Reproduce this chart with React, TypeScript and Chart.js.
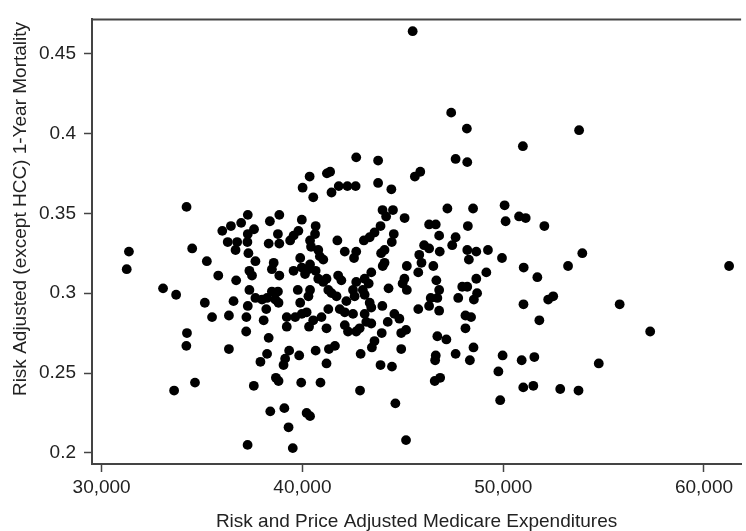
import React, { useEffect, useRef } from 'react';
import { Chart, registerables } from 'chart.js';

Chart.register(...registerables);

// Risk and Price Adjusted Medicare Expenditures (x)
const expenditures: number[] = [
  34230, 31360, 31250, 34510, 35240, 35810, 36700, 33060, 33710, 35140,
  36570, 36010, 36440, 36950, 37280, 36280, 36750, 36670, 37280, 37260,
  37310, 37360, 37360, 37280, 35500, 36340, 37210, 37200, 34250, 34220,
  36340, 34650, 33610, 37270, 42680, 43770, 40360, 41220, 41380, 40010,
  40540, 41450, 41810, 42240, 42650, 43770, 44430, 43990, 44510, 44170,
  45090, 38850, 38380, 37590, 39970, 39800, 39560, 39390, 40660, 40630,
  38780, 38320, 38850, 40380, 40430, 41740, 43890, 43590, 43350, 43060,
  44550, 44450, 44090, 43920, 42110, 42680, 42570, 40790, 40870, 41040,
  39890, 37660, 38570, 38480, 40380, 40300, 39560, 39970, 44090, 44000,
  37490, 38850, 40660, 40790, 41200, 41040, 41780, 41940, 43430, 43100,
  43300, 42680, 40130, 45080, 44990, 37660, 37990, 38480, 38780, 38240,
  38650, 38810, 39770, 39890, 40380, 40300, 41290, 41450, 41700, 42520,
  42600, 43010, 43100, 44290, 43980, 43350, 42190, 41290, 38200, 38070,
  39220, 39640, 39970, 40210, 39220, 40330, 40540, 40950, 41200, 41860,
  42110, 42520, 42110, 42270, 42680, 42850, 43100, 43180, 43430, 43430,
  44580, 44830, 44250, 43950, 44920, 38320, 43590, 43460, 44920, 41620,
  41320, 40660, 39340, 39140, 39060, 39840, 38240, 37910, 42900, 41200,
  43890, 44460, 38680, 38810, 39940, 40900, 37580, 42870, 44630, 38400,
  39100, 40210, 40380, 39310, 39520, 45160, 47630, 48210, 45600, 45870,
  50980, 47220, 48500, 50070, 50120, 50790, 51120, 46310, 46640, 48240,
  46810, 47630, 46060, 46310, 46840, 47460, 48210, 48660, 48290, 49240,
  49940, 45820, 45930, 45200, 45770, 46520, 46670, 49160, 48660, 45200,
  46810, 47960, 48210, 48700, 48540, 47760, 46390, 46720, 46310, 45770,
  46810, 51020, 51010, 45160, 48120, 48400, 48120, 46720, 47170, 46640,
  46610, 47630, 48520, 48340, 46860, 46590, 49970, 49760, 50920, 51000,
  49850, 52050, 53940, 53230, 61250, 51700, 52240, 52490, 51800, 55800,
  57320, 51550, 54760, 51500, 52840, 53750, 45490, 47410, 48190, 53780,
];

// Risk Adjusted (except HCC) 1-Year Mortality (y)
const mortality: number[] = [
  0.354, 0.326, 0.315, 0.328, 0.320, 0.311, 0.308, 0.303, 0.299, 0.294,
  0.295, 0.339, 0.342, 0.344, 0.349, 0.332, 0.332, 0.327, 0.337, 0.332,
  0.325, 0.314, 0.302, 0.292, 0.285, 0.286, 0.285, 0.276, 0.275, 0.267,
  0.265, 0.244, 0.239, 0.205, 0.385, 0.383, 0.373, 0.375, 0.376, 0.366,
  0.360, 0.363, 0.367, 0.367, 0.367, 0.369, 0.365, 0.352, 0.352, 0.348,
  0.347, 0.349, 0.345, 0.340, 0.346, 0.339, 0.336, 0.333, 0.342, 0.337,
  0.337, 0.331, 0.331, 0.333, 0.329, 0.333, 0.342, 0.338, 0.335, 0.333,
  0.337, 0.332, 0.327, 0.325, 0.326, 0.326, 0.322, 0.327, 0.323, 0.321,
  0.322, 0.320, 0.319, 0.315, 0.318, 0.315, 0.314, 0.316, 0.319, 0.317,
  0.311, 0.311, 0.314, 0.309, 0.309, 0.307, 0.311, 0.308, 0.313, 0.309,
  0.306, 0.307, 0.312, 0.309, 0.306, 0.297, 0.296, 0.301, 0.301, 0.297,
  0.296, 0.294, 0.302, 0.294, 0.302, 0.298, 0.302, 0.300, 0.298, 0.302,
  0.298, 0.302, 0.299, 0.303, 0.292, 0.294, 0.295, 0.290, 0.290, 0.283,
  0.285, 0.285, 0.287, 0.288, 0.279, 0.279, 0.283, 0.285, 0.278, 0.290,
  0.288, 0.287, 0.280, 0.276, 0.276, 0.278, 0.287, 0.282, 0.281, 0.291,
  0.287, 0.284, 0.282, 0.275, 0.275, 0.272, 0.270, 0.266, 0.265, 0.267,
  0.265, 0.264, 0.264, 0.259, 0.255, 0.261, 0.262, 0.257, 0.262, 0.256,
  0.255, 0.254, 0.247, 0.245, 0.244, 0.244, 0.242, 0.239, 0.231, 0.226,
  0.228, 0.225, 0.223, 0.216, 0.203, 0.208, 0.384, 0.382, 0.373, 0.376,
  0.392, 0.353, 0.353, 0.355, 0.345, 0.348, 0.347, 0.343, 0.343, 0.342,
  0.336, 0.335, 0.330, 0.328, 0.326, 0.330, 0.327, 0.326, 0.321, 0.327,
  0.322, 0.324, 0.319, 0.317, 0.313, 0.317, 0.308, 0.313, 0.309, 0.302,
  0.302, 0.304, 0.304, 0.300, 0.296, 0.297, 0.297, 0.297, 0.292, 0.290,
  0.289, 0.316, 0.293, 0.277, 0.286, 0.285, 0.278, 0.273, 0.271, 0.261,
  0.258, 0.262, 0.266, 0.258, 0.247, 0.245, 0.261, 0.251, 0.258, 0.241,
  0.233, 0.342, 0.325, 0.317, 0.317, 0.310, 0.296, 0.298, 0.283, 0.293,
  0.276, 0.260, 0.256, 0.242, 0.240, 0.239, 0.464, 0.413, 0.403, 0.402,
];

const xTickValues = [30000, 40000, 50000, 60000];
const yTickValues = [0.2, 0.25, 0.3, 0.35, 0.4, 0.45];
const xTitle = 'Risk and Price Adjusted Medicare Expenditures';
const yTitle = 'Risk Adjusted (except HCC) 1-Year Mortality';

const FONT = "'Liberation Sans', Arial, Helvetica, sans-serif";
const AXIS_COLOR = '#444444';
const TEXT_COLOR = '#222222';

export default function App() {
  const canvasRef = useRef<HTMLCanvasElement | null>(null);

  useEffect(() => {
    const canvas = canvasRef.current;
    if (!canvas) return;

    const points = expenditures.map((x, i) => ({ x, y: mortality[i] }));

    const titlesPlugin = {
      id: 'titlesAndFrame',
      afterDraw(chart: any) {
        const { ctx, chartArea } = chart;
        ctx.save();
        // top frame line
        ctx.strokeStyle = AXIS_COLOR;
        ctx.lineWidth = 2;
        ctx.beginPath();
        ctx.moveTo(chartArea.left - 1, chartArea.top);
        ctx.lineTo(chartArea.right, chartArea.top);
        ctx.stroke();
        // titles
        ctx.fillStyle = TEXT_COLOR;
        ctx.font = `19px ${FONT}`;
        ctx.textAlign = 'center';
        ctx.textBaseline = 'alphabetic';
        ctx.fillText(xTitle, (chartArea.left + chartArea.right) / 2, 527);
        ctx.translate(26, 209);
        ctx.rotate(-Math.PI / 2);
        ctx.fillText(yTitle, 0, 0);
        ctx.restore();
      },
    };

    const chart = new Chart(canvas, {
      type: 'scatter',
      data: {
        datasets: [
          {
            data: points,
            backgroundColor: '#000000',
            borderWidth: 0,
            pointRadius: 4.9,
            pointHoverRadius: 4.9,
          },
        ],
      },
      options: {
        animation: false,
        responsive: false,
        devicePixelRatio: 1,
        layout: { padding: { top: 12, left: 0, right: 0, bottom: 0 } },
        plugins: {
          legend: { display: false },
          tooltip: { enabled: false },
        },
        scales: {
          x: {
            type: 'linear',
            min: 29521,
            max: 61848,
            afterFit(scale: any) {
              scale.height = 67;
            },
            afterBuildTicks(scale: any) {
              scale.ticks = xTickValues.map((v) => ({ value: v }));
            },
            ticks: {
              color: TEXT_COLOR,
              font: { family: FONT, size: 19 },
              padding: 4,
              maxRotation: 0,
              callback: (v: any) => Number(v).toLocaleString('en-US'),
            },
            grid: {
              drawOnChartArea: false,
              drawTicks: true,
              tickLength: 8,
              tickColor: AXIS_COLOR,
              tickWidth: 1.5,
            },
            border: { display: true, color: AXIS_COLOR, width: 2 },
          },
          y: {
            type: 'linear',
            min: 0.19304,
            max: 0.47137,
            afterFit(scale: any) {
              scale.width = 92;
            },
            afterBuildTicks(scale: any) {
              scale.ticks = yTickValues.map((v) => ({ value: v }));
            },
            ticks: {
              color: TEXT_COLOR,
              font: { family: FONT, size: 19 },
              padding: 8,
              callback: (v: any) => String(Number(v)),
            },
            grid: {
              drawOnChartArea: false,
              drawTicks: true,
              tickLength: 8,
              tickColor: AXIS_COLOR,
              tickWidth: 1.5,
            },
            border: { display: true, color: AXIS_COLOR, width: 2 },
          },
        },
      },
      plugins: [titlesPlugin],
    });

    return () => {
      chart.destroy();
    };
  }, []);

  return (
    <div style={{ position: 'absolute', left: 0, top: 0, width: 746, height: 531, background: '#ffffff' }}>
      <canvas ref={canvasRef} width={746} height={531} style={{ display: 'block' }} />
    </div>
  );
}
